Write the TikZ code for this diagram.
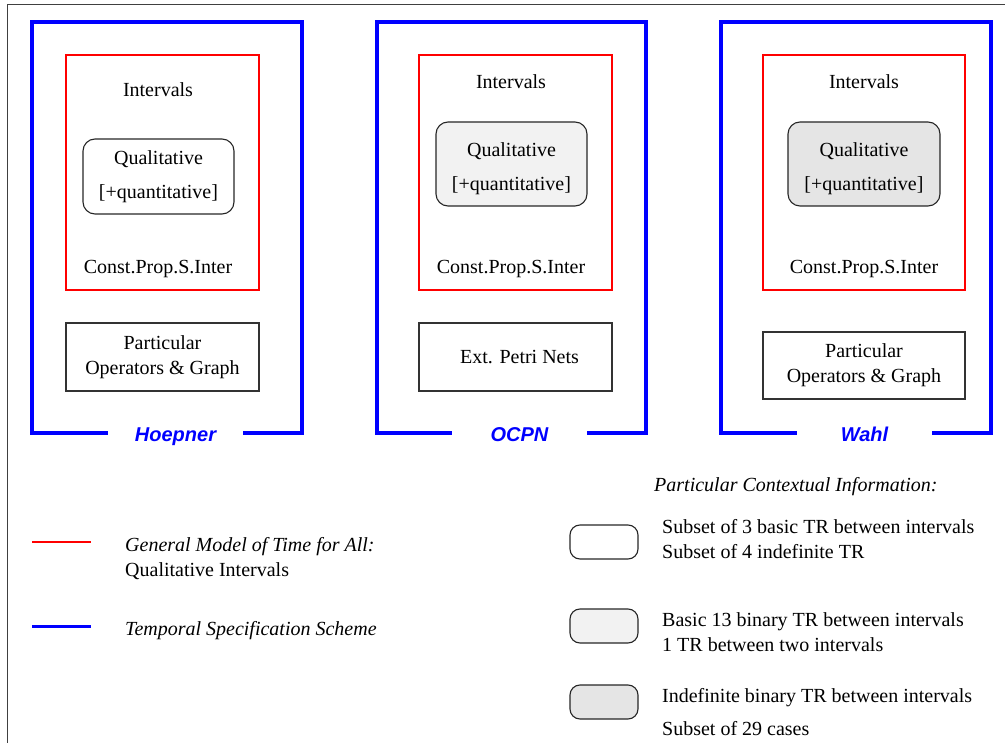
\documentclass[tikz,border=0pt]{standalone}
\usepackage{fontspec}
\setmainfont{Liberation Serif}
\newfontfamily\schemefont{Liberation Sans}

\begin{document}
\begin{tikzpicture}[x=1pt,y=-1pt,
  every node/.style={font=\fontsize{20}{25}\selectfont},
  model/.style={draw=red,line width=1.8pt,minimum width=193pt,minimum height=235pt},
  info/.style={draw=black!85,line width=1.1pt,rounded corners=12pt,minimum width=151pt,align=center,font=\fontsize{20}{34}\selectfont},
  tool/.style={draw=black!80,line width=1.1pt,minimum width=193pt,minimum height=68pt,align=center},
  keybox/.style={draw=black!85,line width=1.1pt,rounded corners=10pt,minimum width=68pt,minimum height=34pt},
  scheme/.style={draw=blue,line width=3.6pt},
  scheme label/.style={minimum width=135pt,inner sep=0pt,text height=18pt,text depth=0pt,text=blue,font=\fontsize{20}{25}\schemefont\bfseries\itshape},
  txt/.style={inner sep=0pt,anchor=base},
  txtl/.style={inner sep=0pt,anchor=base west}]
    \useasboundingbox (0,0) rectangle (1005,743);
    %myborder
    \draw [line width=1.5pt,color=black!75] (7.5,743) -- (7.5,4.5) -- (1005,4.5);

    %hoepner
    \node[model] (hoepner model) at (162.5,172.5) {};
    \node[txt] (hoepner intervals) at (158,97) {Intervals};
    \node[info,minimum height=75pt] (hoepner info) at (158.5,176.5) {Qualitative\\{[+quantitative]}};
    \node[txt] (hoepner csp) at (158,274) {Const.Prop.S.Inter};
    \node[tool] (hoepner tool) at (162.5,357) {Particular\\Operators \& Graph};
    \node[scheme label] (hoepner) at (175.5,433) {Hoepner};
    \draw [scheme] (hoepner.west) -| (32,22) -| (302,433) -- (hoepner.east);

    %ocpn
    \node[model] (ocpn model) at (515.5,172.5) {};
    \node[txt] (ocpn intervals) at (511,89) {Intervals};
    \node[info,minimum height=84pt,text height=58pt,fill=gray!10] (ocpn info) at (511.5,164) {Qualitative\\{[+quantitative]}};
    \node[txt] (ocpn csp) at (511,274) {Const.Prop.S.Inter};
    \node[tool] (ocpn tool) at (515.5,357) {\hspace*{8pt}Ext. Petri Nets};
    \node[scheme label] (ocpn) at (519.5,433) {OCPN};
    \draw [scheme] (ocpn.west) -| (377,22) -| (646,433) -- (ocpn.east);

    %wahl
    \node[model,minimum width=202pt] (wahl model) at (864,172.5) {};
    \node[txt] (wahl intervals) at (864,89) {Intervals};
    \node[info,minimum width=152pt,minimum height=84pt,text height=58pt,fill=gray!20] (wahl info) at (864,164) {Qualitative\\{[+quantitative]}};
    \node[txt] (wahl csp) at (864,274) {Const.Prop.S.Inter};
    \node[tool,minimum width=202pt,minimum height=67pt] (wahl tool) at (864,365.5) {Particular\\Operators \& Graph};
    \node[scheme label] (wahl) at (864.5,433) {Wahl};
    \draw [scheme] (wahl.west) -| (721,22) -| (991,433) -- (wahl.east);

    %legend models
    \draw [draw=red,line width=1.8pt] (32,542) -- (91,542);
    \node[txtl] (model text) at (125,551) {\itshape General Model of Time for All:};
    \node[txtl] (model text2) at (125,576) {Qualitative Intervals};
    \draw [scheme,line width=3pt] (32,626) -- (91,626);
    \node[txtl] (scheme text) at (125,635) {\itshape Temporal Specification Scheme};

    %legend context
    \node[txtl] (context) at (654,492) {\itshape Particular Contextual Information:};
    \node[keybox] (key a) at (604,542) {};
    \node[txtl] at (662,533) {Subset of 3 basic TR between intervals};
    \node[txtl] at (662,558) {Subset of 4 indefinite TR};
    \node[keybox,fill=gray!10] (key b) at (604,626) {};
    \node[txtl] at (662,626) {Basic 13 binary TR between intervals};
    \node[txtl] at (662,651) {1 TR between two intervals};
    \node[keybox,fill=gray!20] (key c) at (604,702) {};
    \node[txtl] at (662,702) {Indefinite binary TR between intervals};
    \node[txtl] at (662,735) {Subset of 29 cases};

  \end{tikzpicture}
\end{document}
